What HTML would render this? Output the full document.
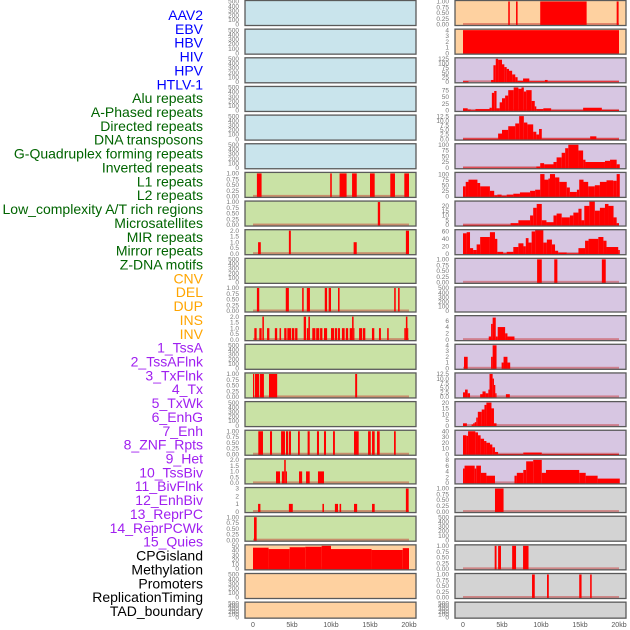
<!DOCTYPE html>
<html><head><meta charset="utf-8"><style>
html,body{margin:0;padding:0;background:#fff;}
svg{display:block;font-family:"Liberation Sans",sans-serif;}
</style></head><body>
<svg id="chart" width="630" height="630" viewBox="0 0 630 630"></svg>
<script>
// ===== data =====
const trackLabels = ["AAV2","EBV","HBV","HIV","HPV","HTLV-1","Alu repeats","A-Phased repeats","Directed repeats","DNA transposons","G-Quadruplex forming repeats","Inverted repeats","L1 repeats","L2 repeats","Low_complexity A/T rich regions","Microsatellites","MIR repeats","Mirror repeats","Z-DNA motifs","CNV","DEL","DUP","INS","INV","1_TssA","2_TssAFlnk","3_TxFlnk","4_Tx","5_TxWk","6_EnhG","7_Enh","8_ZNF_Rpts","9_Het","10_TssBiv","11_BivFlnk","12_EnhBiv","13_ReprPC","14_ReprPCWk","15_Quies","CPGisland","Methylation","Promoters","ReplicationTiming","TAD_boundary"];
const labelGroups = [6,13,5,15,5];
const xTickValues = [0,5,10,15,20];
const xTickLabels = ["0","5kb","10kb","15kb","20kb"];

const ticksEmpty = [0,100,200,300,400,500];
const ticksUnit = [0,0.25,0.5,0.75,1];
const ticksTwo = [0,0.5,1,1.5,2];

const leftL1 = [[0.5,1.1,1],[9.9,10.1,1],[11.1,12.0,1],[12.7,13.3,1],[15.0,15.6,1],[17.6,18.2,1],[19.4,20.0,1]];
const leftL2 = [[16.0,16.3,1]];
const leftLowComplex = [[0.65,1.0,1],[4.6,4.85,2],[12.9,13.3,1],[19.6,20.0,2]];
const leftMicrosat = [[0.5,0.8,1],[4.2,4.6,1],[6.3,6.5,1],[6.9,7.3,1],[9.2,9.5,1],[9.7,10.0,1],[10.9,11.1,1],[18.1,18.3,1],[18.6,18.8,1]];
const leftMIR = [[0.17,0.47,1],[0.81,1.11,1],[1.2,1.4,2],[1.8,2.1,1],[2.8,3.1,1],[3.4,3.6,1],[4.0,4.3,1],[4.4,4.9,1],[5.0,5.3,1],[5.4,5.7,1],[6.5,6.8,2],[6.9,7.1,1],[7.1,7.3,2],[7.6,8.0,1],[8.1,8.5,1],[8.6,8.9,1],[9.1,9.5,1],[10.0,10.4,1],[10.5,10.8,1],[10.9,11.15,1],[11.4,11.75,1],[11.9,12.2,1],[12.4,12.7,1],[12.7,12.9,2],[12.9,13.0,1],[13.6,14.0,1],[14.1,14.4,1],[15.25,15.55,1],[16.15,16.4,1],[17.2,17.4,1],[19.4,19.6,1],[19.6,19.8,2],[19.8,19.9,1]];
const leftRow13 = [[0,0.15,1],[0.25,0.8,1],[0.9,1.4,1],[2.05,3.1,1],[13.1,13.35,1]];
const leftRow15 = [[0.68,1.28,1],[2.18,2.44,1],[3.6,4.1,1],[4.23,4.5,1],[4.6,4.87,1],[5.77,6.0,1],[7.0,7.27,1],[8.2,8.46,1],[9.1,9.36,1],[10.26,10.5,1],[12.95,13.55,1],[14.75,15.1,1],[15.26,15.6,1],[15.9,16.24,1],[18.08,18.3,1]];
const leftRow16 = [[2.95,3.46,1],[3.7,4.0,1],[4.0,4.2,2],[4.2,4.36,1],[5.9,6.3,1],[6.8,7.27,1],[8.33,9.1,1]];
const leftRow17 = [[0.65,0.95,1],[4.6,5.1,1],[8.9,9.1,1],[10.5,10.9,1],[11.1,11.3,1],[12.95,13.35,1],[15.26,15.6,1],[19.6,19.95,3]];
const leftRow18 = [[0.13,0.47,1]];
const leftCPG = [[0,2,46],[2,4.7,43],[4.7,6.7,47],[6.7,8.8,48],[8.8,10,50],[10,15.2,43],[15.2,19.2,41],[19.2,20,45]];

const rightAAV2 = [[5.8,6.0,1],[6.8,7.0,1],[9.9,15.85,1],[19.7,19.95,1]];
const rightEBV = [[0,20,4]];
const rightHIV = [[0,0.7,3],[3.6,3.9,10],[3.9,4.2,90],[4.2,4.5,125],[4.5,5.0,120],[5.0,5.3,95],[5.3,5.6,80],[5.6,5.9,70],[5.9,6.3,60],[6.3,6.7,40],[6.7,7.0,25],[7.0,7.7,5],[7.7,8.5,18],[8.5,10.5,3],[10.5,10.85,10],[10.85,20,2]];
const rightAlu = [[0,0.6,8],[0.6,1.0,3],[1.0,1.6,1],[1.6,3.4,5],[3.4,3.7,10],[3.7,4.0,65],[4.0,4.3,72],[4.3,4.7,8],[4.7,5.0,30],[5.0,5.4,45],[5.4,5.8,55],[5.8,6.5,75],[6.5,7.1,85],[7.1,7.5,80],[7.5,7.8,85],[7.8,8.1,70],[8.1,8.8,75],[8.8,9.2,35],[9.2,9.4,15],[9.4,10.3,5],[10.3,11.3,8],[11.3,15.4,1],[15.4,17.8,10],[17.8,20,2]];
const rightRow4 = [[0,4.5,0.3],[4.5,5.0,3],[5.0,5.8,5],[5.8,6.7,7],[6.7,7.2,8.5],[7.2,7.8,12.5],[7.8,8.25,9],[8.25,9.0,8],[9.0,9.4,4],[9.4,9.75,2.5],[9.75,10.1,5.5],[10.1,16.3,0.3],[16.3,17.1,1.5],[17.1,20,0.3]];
const rightRow5 = [[0,9.4,0.5],[9.4,9.9,5],[9.9,10.4,20],[10.4,11.6,15],[11.6,12.0,25],[12.0,12.65,45],[12.65,13.1,65],[13.1,13.5,85],[13.5,14.8,100],[14.8,15.4,75],[15.4,15.7,35],[15.7,18.2,25],[18.2,18.85,30],[18.85,19.7,35],[19.7,20.1,15]];
const rightRow6 = [[0,0.35,45],[0.35,0.7,65],[0.7,1.85,75],[1.85,2.2,60],[2.2,3.45,45],[3.45,4.0,25],[4.0,4.4,5],[4.4,4.95,8],[4.95,5.6,3],[5.6,6.45,8],[6.45,7.3,12],[7.3,8.6,18],[8.6,9.25,25],[9.25,9.9,30],[9.9,10.45,100],[10.45,10.95,75],[10.95,11.15,80],[11.15,11.8,100],[11.8,12.35,85],[12.35,13.3,65],[13.3,13.7,40],[13.7,14.6,20],[14.6,14.9,30],[14.9,15.45,75],[15.45,16.05,65],[16.05,16.9,45],[16.9,17.55,50],[17.55,18.4,65],[18.4,19.25,72],[19.25,19.7,70],[19.7,20.1,100]];
const rightRow7 = [[0,6.1,0.3],[6.1,7.1,2],[7.1,8.6,5],[8.6,9.0,10],[9.0,9.45,18],[9.45,10.1,22],[10.1,10.7,5],[10.7,11.6,3],[11.6,12.0,10],[12.0,12.65,12],[12.65,13.7,8],[13.7,14.15,10],[14.15,14.8,13],[14.8,15.2,17],[15.2,15.55,5],[15.55,16.2,20],[16.2,16.9,25],[16.9,17.55,15],[17.55,18.2,18],[18.2,18.65,22],[18.65,19.3,20],[19.3,19.7,8],[19.7,20,2]];
const rightRow8 = [[0,0.47,55],[0.47,0.9,58],[0.9,1.3,15],[1.3,1.75,10],[1.75,2.2,25],[2.2,3.45,45],[3.45,4.1,58],[4.1,4.4,40],[4.4,5.15,5],[5.15,5.6,1],[5.6,6.45,5],[6.45,7.1,18],[7.1,7.75,28],[7.75,8.05,20],[8.05,8.4,42],[8.4,8.8,30],[8.8,9.25,60],[9.25,10.3,65],[10.3,10.75,30],[10.75,11.4,38],[11.4,11.8,25],[11.8,12.2,8],[12.2,13.3,3],[13.3,14.8,1],[14.8,15.65,15],[15.65,16.1,35],[16.1,17.35,40],[17.35,18.0,45],[18.0,18.4,35],[18.4,19.9,18],[19.9,20.1,10]];
const rightZDNA = [[9.5,10.1,1],[11.7,12.1,1],[17.8,18.3,1]];
const rightRow11 = [[3.3,3.6,1],[3.6,3.8,5],[3.8,4.2,7],[4.2,4.45,1],[4.45,5.4,4],[5.4,5.7,2],[5.7,6.6,1]];
const rightRow12 = [[0.13,0.6,2],[3.6,3.8,2],[3.8,4.3,4],[4.95,5.2,1],[5.2,5.7,2],[5.7,6.05,1]];
const rightRow13 = [[0,0.26,2.5],[0.26,0.6,4],[0.6,0.9,2],[2.2,2.5,1.5],[2.5,2.9,3],[2.9,3.25,2],[3.25,3.4,4],[3.4,3.8,12.5],[3.8,3.97,10],[3.97,4.14,6.5],[4.14,4.3,2],[5.5,6.0,1.5]];
const rightRow14 = [[0,0.5,2],[1.1,1.3,1],[1.3,1.5,2],[1.5,1.7,3],[1.7,1.9,7],[1.9,2.4,12],[2.4,2.75,14],[2.75,3.0,18],[3.0,3.65,20],[3.65,3.97,15],[3.97,4.3,2]];
const rightRow15 = [[0,0.43,33],[0.43,0.65,32],[0.65,1.58,40],[1.58,1.92,38],[1.92,2.26,33],[2.26,2.7,27],[2.7,3.0,23],[3.0,3.46,20],[3.46,3.76,17],[3.76,4.1,12],[4.1,4.5,4],[4.5,7.73,0.5],[7.73,10.1,3],[10.1,20,0.5]];
const rightRow16 = [[0,0.2,5],[0.2,1.5,6],[1.5,1.7,5],[1.7,2.3,6],[2.3,3.0,3.5],[3.0,4.1,2.5],[6.6,6.9,2.5],[6.9,7.73,3.5],[7.73,8.1,4.5],[8.1,9.0,7.5],[9.0,10.1,8],[10.1,10.64,3.5],[10.64,14.9,4.5],[14.9,15.73,3.5],[15.73,17.26,2.5],[17.26,20.1,1.5]];
const rightRow17 = [[4.1,5.2,1]];
const rightRow19 = [[4.06,4.3,1],[4.5,4.87,1],[6.3,6.8,1],[7.7,8.4,1]];
const rightRow20 = [[8.85,9.2,1],[10.77,11.0,1],[14.9,15.2,1],[16.3,16.5,1]];

// ===== layout =====
const NS="http://www.w3.org/2000/svg";
const svg=document.getElementById('chart');
const COLORS={blue:"#c9e4ec",green:"#c9e2a5",orange:"#fed1a0",purple:"#d7c6e2",gray:"#d3d3d3"};
const labelColors=["#0000ff","#006400","#ffa500","#a020f0","#000000"];
const COLX=[245,455], PW=171, ROWSTEP=28.65, PH=25;
function xScale(col,kb){return (col===0?253:463)+kb*7.8;}

const leftPanels=[
 ["blue",null,ticksEmpty,500],["blue",null,ticksEmpty,500],["blue",null,ticksEmpty,500],
 ["blue",null,ticksEmpty,500],["blue",null,ticksEmpty,500],["blue",null,ticksEmpty,500],
 ["green",leftL1,ticksUnit,1],["green",leftL2,ticksUnit,1],["green",leftLowComplex,ticksTwo,2],
 ["green",null,ticksEmpty,500],["green",leftMicrosat,ticksUnit,1],["green",leftMIR,ticksTwo,2],
 ["green",null,ticksEmpty,500],["green",leftRow13,ticksUnit,1],["green",null,ticksEmpty,500],
 ["green",leftRow15,ticksUnit,1],["green",leftRow16,ticksTwo,2],["green",leftRow17,[0,1,2,3],3],
 ["green",leftRow18,ticksUnit,1],["orange",leftCPG,[0,10,20,30,40,50],50],
 ["orange",null,ticksEmpty,500],["orange",null,ticksEmpty,500]];
const rightPanels=[
 ["orange",rightAAV2,ticksUnit,1],["orange",rightEBV,[0,1,2,3,4],4],
 ["purple",rightHIV,[0,25,50,75,100,125],125],["purple",rightAlu,[0,25,50,75],85],
 ["purple",rightRow4,[0,2.5,5,7.5,10,12.5],12.5],["purple",rightRow5,[0,25,50,75,100],100],
 ["purple",rightRow6,[0,25,50,75,100],103],["purple",rightRow7,[0,5,10,15,20],24],
 ["purple",rightRow8,[0,20,40,60],62],["purple",rightZDNA,ticksUnit,1],
 ["purple",null,ticksEmpty,500],["purple",rightRow11,[0,2,4,6],7.3],
 ["purple",rightRow12,[0,1,2,3,4],4],["purple",rightRow13,[0,2.5,5,7.5,10,12.5],12.5],
 ["purple",rightRow14,[0,5,10,15,20],20],["purple",rightRow15,[0,10,20,30,40],40],
 ["purple",rightRow16,[0,2,4,6,8],8],["gray",rightRow17,ticksUnit,1],
 ["gray",null,ticksEmpty,500],["gray",rightRow19,ticksUnit,1],
 ["gray",rightRow20,ticksUnit,1],["gray",null,ticksEmpty,500]];

function mk(tag,attrs){const e=document.createElementNS(NS,tag);for(const k in attrs)e.setAttribute(k,attrs[k]);svg.appendChild(e);return e;}
function fmtTick(t,ticks){
  if(ticks===ticksUnit) return t.toFixed(2);
  if(ticks===ticksTwo) return t.toFixed(1);
  if(ticks.includes(2.5)) return t.toFixed(1);
  return String(t);
}

// labels
let li=0;
labelGroups.forEach((n,g)=>{for(let k=0;k<n;k++){
  const t=mk('text',{x:203,y:(15+li*13.86+5).toFixed(1),'text-anchor':'end','font-size':'14',fill:labelColors[g]});
  t.textContent=trackLabels[li];
  
  
  li++;
}});

let clipId=0;
[leftPanels,rightPanels].forEach((panels,col)=>{
  panels.forEach((p,i)=>{
    const [color,data,ticks,ymax]=p;
    const top=i*ROWSTEP+0.5;
    const h=(i===21)?16:PH;
    const x0=COLX[col];
    const bottom=top+h;
    const yS=v=>(bottom-1)-(v/ymax)*(h-2);
    const bg=mk('rect',{x:x0,y:top,width:PW,height:h,fill:COLORS[color]});
    
    
    const cid='c'+(clipId++);
    const cp=mk('clipPath',{id:cid});
    const cr=document.createElementNS(NS,'rect');
    cr.setAttribute('x',x0);cr.setAttribute('y',top);cr.setAttribute('width',PW);cr.setAttribute('height',h);
    cp.appendChild(cr);
    const g=mk('g',{'clip-path':'url(#'+cid+')'});
    if(data){
      const base=document.createElementNS(NS,'rect');
      base.setAttribute('x',xScale(col,0));base.setAttribute('y',bottom-2.5);
      base.setAttribute('width',xScale(col,20)-xScale(col,0));base.setAttribute('height',2);
      base.setAttribute('fill','rgba(200,40,40,0.45)');
      
      
      g.appendChild(base);
      data.forEach(d=>{
        const r=document.createElementNS(NS,'rect');
        const xa=xScale(col,d[0]),xb=xScale(col,d[1]);
        const yt=yS(d[2]);
        r.setAttribute('x',xa);r.setAttribute('width',Math.max(0.8,xb-xa));
        r.setAttribute('y',yt);r.setAttribute('height',Math.max(0,bottom-yt));
        r.setAttribute('fill','#ff0000');
        
        
        g.appendChild(r);
      });
    }
    const border=mk('rect',{x:x0,y:top,width:PW,height:h,fill:'none',stroke:'#5a5a5a','stroke-width':1.3});
    
    
    ticks.forEach(t=>{
      const tx=mk('text',{x:x0-6,y:(yS(t)+2.2).toFixed(1),'text-anchor':'end','font-size':'6.5',fill:'#777'});
      tx.textContent=fmtTick(t,ticks);
      
      
    });
  });
  xTickValues.forEach((v,k)=>{
    const tx=mk('text',{x:xScale(col,v),y:627,'text-anchor':'middle','font-size':'7',fill:'#555'});
    tx.textContent=xTickLabels[k];
    
    
  });
});
</script>
</body></html>
